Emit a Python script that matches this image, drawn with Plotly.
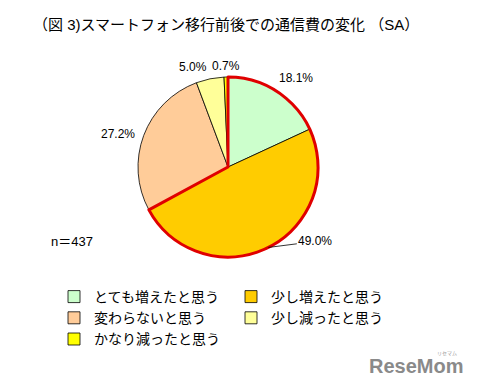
import math
import plotly.graph_objects as go

categories = ["とても増えたと思う", "少し増えたと思う", "変わらないと思う", "少し減ったと思う", "かなり減ったと思う"]
values = [18.1, 49.0, 27.2, 5.0, 0.7]
colors = ["#CCFFCC", "#FFCC00", "#FFCC99", "#FFFF99", "#FFFF00"]
title_text = "（図 3)スマートフォン移行前後での通信費の変化 （SA）"
n_text = "n＝437"

FONT = "Liberation Sans, Noto Sans CJK JP, sans-serif"

W, H = 480, 389
cx, cy, r = 228, 167, 90
dom_x = [(cx - r) / W, (cx + r) / W]
dom_y = [(H - cy - r) / H, (H - cy + r) / H]

fig = go.Figure()
fig.add_trace(go.Pie(
    labels=categories, values=values, sort=False, direction="clockwise", rotation=0,
    marker=dict(colors=colors, line=dict(color="#000000", width=0.8)),
    textinfo="none",
    domain=dict(x=dom_x, y=dom_y), hoverinfo="label+value", showlegend=True,
))
# red outline around the "increased" group
inc = values[0] + values[1]
fig.add_trace(go.Pie(
    labels=["増えた", "その他"], values=[inc, sum(values) - inc], sort=False,
    direction="clockwise", rotation=0,
    marker=dict(colors=["rgba(0,0,0,0)", "rgba(0,0,0,0)"],
                line=dict(color=["#E00000", "rgba(0,0,0,0)"], width=[3, 0])),
    textinfo="none", hoverinfo="skip", showlegend=False,
    domain=dict(x=dom_x, y=dom_y),
))

# percentage labels anchored at each slice's mid-angle on the rim
label_offsets = [(20, -13), (47, -6), (-26, -1), (-17, -12), (0, -11)]  # pixel offsets of text
leader = [False, True, False, False, False]
annotations = []
total = sum(values)
cum = 0.0
for v, (ox, oy), ld in zip(values, label_offsets, leader):
    mid = (cum + v / 2) / total * 2 * math.pi
    cum += v
    px = cx + r * math.sin(mid)
    py = cy - r * math.cos(mid)
    annotations.append(dict(
        text=f"{v:.1f}%", x=px / W, y=1 - py / H, xref="paper", yref="paper",
        showarrow=True, ax=ox, ay=oy, arrowhead=0, arrowwidth=0.8, standoff=0,
        arrowcolor="#000000" if ld else "rgba(0,0,0,0)",
        font=dict(size=12, family=FONT, color="#000000"),
    ))

annotations += [
    dict(text=n_text, x=49 / W, y=1 - 241 / H, xref="paper", yref="paper",
         xanchor="left", yanchor="middle", showarrow=False, font=dict(size=13)),
    dict(text="<b>ReseMom</b>", x=465 / W, y=1 - 366 / H, xref="paper", yref="paper",
         xanchor="right", yanchor="middle", showarrow=False,
         font=dict(size=20, color="#8a8a8a", family="Liberation Sans")),
    dict(text="リセマム", x=447 / W, y=1 - 353 / H, xref="paper", yref="paper",
         xanchor="center", yanchor="middle", showarrow=False,
         font=dict(size=5, color="#9a9a9a", family="Noto Sans CJK JP")),
]

fig.update_layout(
    width=W, height=H, margin=dict(l=0, r=0, t=0, b=0),
    paper_bgcolor="white", plot_bgcolor="white",
    font=dict(family=FONT, color="#000000"),
    title=dict(text=title_text, x=33 / W, xanchor="left", y=1 - 25 / H, yanchor="middle",
               font=dict(size=15, family=FONT)),
    legend=dict(orientation="h", x=54 / W, xanchor="left", y=1 - 281 / H, yanchor="top",
                entrywidth=132, entrywidthmode="pixels", traceorder="normal",
                font=dict(size=14, family=FONT), itemwidth=30, tracegroupgap=0),
    annotations=annotations,
)

fig.write_html("out.html", config={"displayModeBar": False},
               post_script="document.body.style.margin='0';")
